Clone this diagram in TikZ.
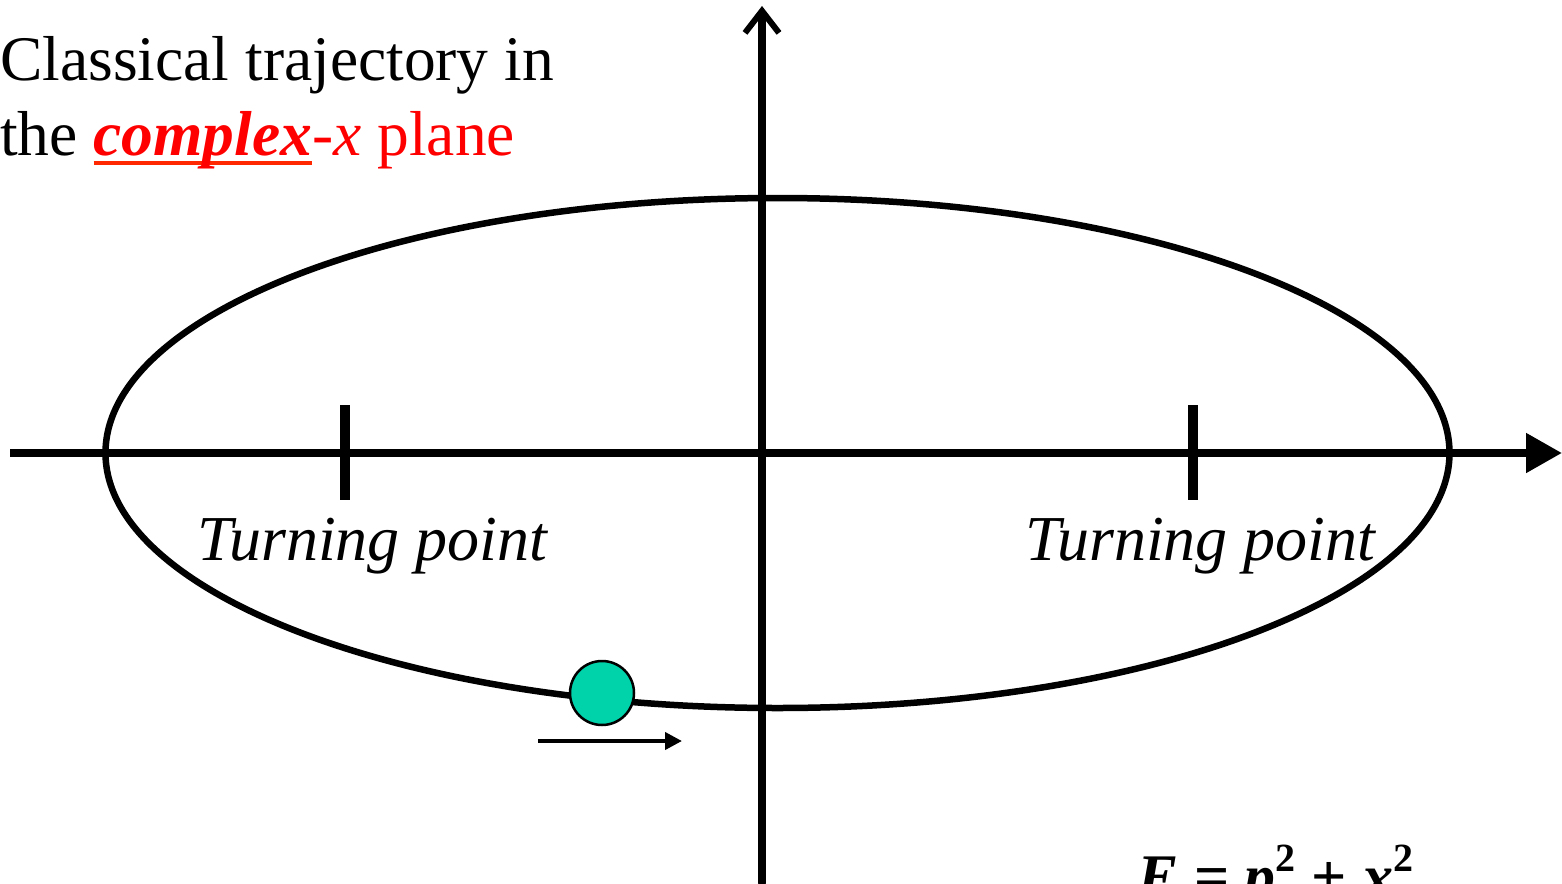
\documentclass[tikz,border=0pt]{standalone}
\usepackage{fontspec}
\setmainfont{Liberation Serif}
\usetikzlibrary{arrows.meta}
\definecolor{ballgreen}{RGB}{0,210,170}
\definecolor{ulred}{RGB}{255,40,0}
\definecolor{txtred}{RGB}{255,0,0}
\newcommand{\mycul}[1]{\setbox0\hbox{#1}\rlap{\color{ulred}\rule[-10pt]{\wd0}{4.5pt}}\box0}
\tikzset{
  axis/.style={line width=8pt},
  tick/.style={line width=10pt},
  orbit/.style={line width=6.5pt},
  lbl/.style={inner sep=0pt, anchor=base west, font=\fontsize{64}{72}\selectfont\itshape},
  ttl/.style={inner sep=0pt, anchor=base west, font=\fontsize{63.5}{72}\selectfont},
}
\begin{document}
\begin{tikzpicture}[x=1pt,y=-1pt]
\useasboundingbox (0,0) rectangle (1562,883);
\clip (0,0) rectangle (1562,883);
% ellipse
\draw[orbit] (777.5,453) ellipse [x radius=672, y radius=255];
% axes
\coordinate (xl) at (10,453);
\coordinate (xr) at (1562,453);
\coordinate (yb) at (762,883);
\coordinate (yt) at (762,6);
\draw[axis,-{Triangle[length=36pt,width=38pt]}] (xl) -- (xr);
\draw[axis,line cap=round,line join=round,-{Straight Barb[length=22pt,width=34pt,line width=6pt]}] (yb) -- (yt);
% ticks
\coordinate (t1a) at (345,405); \coordinate (t1b) at (345,500);
\coordinate (t2a) at (1193,405); \coordinate (t2b) at (1193,500);
\draw[tick] (t1a) -- (t1b);
\draw[tick] (t2a) -- (t2b);
% labels
\node[lbl] (tpl) at (197,560) {Turning point};
\node[lbl] (tpr) at (1025,560) {Turning point};
% ball
\node[circle, draw=black, line width=2.5pt, fill=ballgreen, minimum size=64pt, inner sep=0pt] (ball) at (602,693) {};
\coordinate (aa) at (538,741);
\coordinate (ab) at (682,741);
\draw[line width=4pt,-{Triangle[length=17pt,width=17pt]}] (aa) -- (ab);
% title
\node[ttl] (t1) at (0,80) {Classical trajectory in};
\node[ttl] (t2) at (0,155) {the \textcolor{txtred}{\mycul{\textbf{\textit{complex}}}-\textit{x} plane}};
% equation
\node[inner sep=0pt, anchor=base west, font=\fontsize{62}{70}\selectfont\bfseries] (eq) at (1137,897)
  {\textit{E} = \textit{p}\raisebox{26pt}{\fontsize{40}{40}\selectfont 2} + \textit{x}\raisebox{26pt}{\fontsize{40}{40}\selectfont 2}};
\end{tikzpicture}
\end{document}
